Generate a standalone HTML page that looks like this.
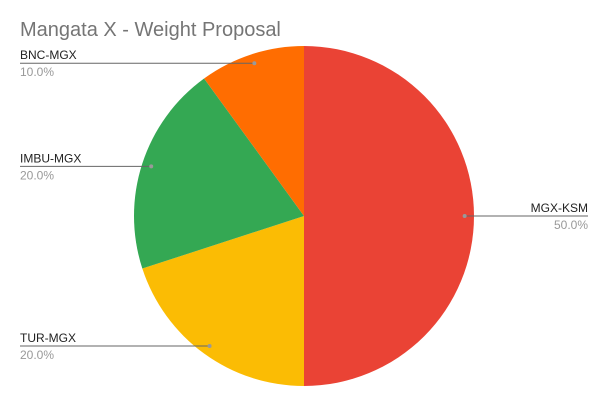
<!DOCTYPE html>
<html><head><meta charset="utf-8"><style>
body{margin:0;background:#fff;}
svg{display:block;font-family:"Liberation Sans",Arial,sans-serif;}
</style></head><body>
<svg id="chart" width="611" height="406">
<rect width="611" height="406" fill="#fff"/>
<text x="20" y="36" font-size="20" fill="#757575">Mangata X - Weight Proposal</text>
<g id="slices"></g><g id="labels"></g>
</svg>
<script>
const categories=["MGX-KSM","TUR-MGX","IMBU-MGX","BNC-MGX"];
const values=[50,20,20,10];
const colors=["#ea4335","#fbbc04","#34a853","#ff6d01"];
const labelSide=["right","left","left","left"];
const NS="http://www.w3.org/2000/svg";
const cx=304,cy=216,r=170;
const total=values.reduce((a,b)=>a+b,0);
const sg=document.getElementById('slices'),lg=document.getElementById('labels');
function pt(a,rr){return [cx+rr*Math.sin(a),cy-rr*Math.cos(a)];}
let start=0;
values.forEach((v,i)=>{
  const ang=v/total*2*Math.PI,end=start+ang;
  const [x1,y1]=pt(start,r),[x2,y2]=pt(end,r);
  const p=document.createElementNS(NS,'path');
  p.setAttribute('d',`M${cx},${cy}L${x1},${y1}A${r},${r} 0 ${ang>Math.PI?1:0} 1 ${x2},${y2}Z`);
  p.setAttribute('fill',colors[i]);
  
  
  sg.appendChild(p);
  const mid=start+ang/2;const [px,py]=pt(mid,r*0.945);
  const right=labelSide[i]==='right';
  const lx=right?588:20;
  const ln=document.createElementNS(NS,'line');
  ln.setAttribute('x1',px);ln.setAttribute('y1',py);ln.setAttribute('x2',lx);ln.setAttribute('y2',py);
  ln.setAttribute('stroke','#666');ln.setAttribute('stroke-width','1');
  
  
  lg.appendChild(ln);
  const dot=document.createElementNS(NS,'circle');
  dot.setAttribute('cx',px);dot.setAttribute('cy',py);dot.setAttribute('r','2');dot.setAttribute('fill','#999');
  
  
  lg.appendChild(dot);
  const t=document.createElementNS(NS,'text');
  t.setAttribute('x',lx);t.setAttribute('y',py-4);t.setAttribute('font-size','12');t.setAttribute('fill','#222');
  t.setAttribute('text-anchor',right?'end':'start');t.textContent=categories[i];
  
  
  lg.appendChild(t);
  const t2=document.createElementNS(NS,'text');
  t2.setAttribute('x',lx);t2.setAttribute('y',py+13);t2.setAttribute('font-size','12');t2.setAttribute('fill','#999');
  t2.setAttribute('text-anchor',right?'end':'start');t2.textContent=(v/total*100).toFixed(1)+'%';
  
  
  lg.appendChild(t2);
  start=end;
});
</script>
</body></html>
